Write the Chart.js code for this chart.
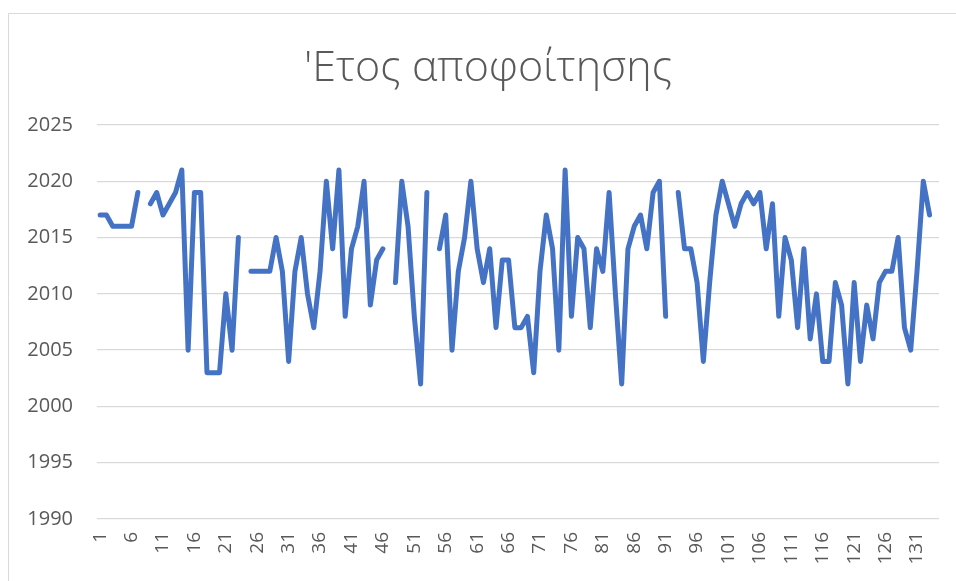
<!DOCTYPE html>
<html>
<head>
<meta charset="utf-8">
<script src="https://cdn.jsdelivr.net/npm/chart.js@4/dist/chart.umd.min.js"></script>
<style>
  html, body { margin: 0; padding: 0; background: #fff; }
  #wrap { position: relative; width: 956px; height: 581px; }
</style>
</head>
<body>
<div id="wrap"><canvas id="c" width="956" height="581"></canvas></div>
<script>
const chartTitle = "'Ετος αποφοίτησης";

const categories = [];
for (let i = 1; i <= 134; i++) categories.push(String(i));

const graduationYear = [
  2017, 2017, 2016, 2016, 2016, 2016, 2019, null, 2018, 2019,
  2017, 2018, 2019, 2021, 2005, 2019, 2019, 2003, 2003, 2003,
  2010, 2005, 2015, null, 2012, 2012, 2012, 2012, 2015, 2012,
  2004, 2012, 2015, 2010, 2007, 2012, 2020, 2014, 2021, 2008,
  2014, 2016, 2020, 2009, 2013, 2014, null, 2011, 2020, 2016,
  2008, 2002, 2019, null, 2014, 2017, 2005, 2012, 2015, 2020,
  2014, 2011, 2014, 2007, 2013, 2013, 2007, 2007, 2008, 2003,
  2012, 2017, 2014, 2005, 2021, 2008, 2015, 2014, 2007, 2014,
  2012, 2019, 2010, 2002, 2014, 2016, 2017, 2014, 2019, 2020,
  2008, null, 2019, 2014, 2014, 2011, 2004, 2011, 2017, 2020,
  2018, 2016, 2018, 2019, 2018, 2019, 2014, 2018, 2008, 2015,
  2013, 2007, 2014, 2006, 2010, 2004, 2004, 2011, 2009, 2002,
  2011, 2004, 2009, 2006, 2011, 2012, 2012, 2015, 2007, 2005,
  2012, 2020, 2017, null
];

const yMin = 1990, yMax = 2025, yStep = 5;

const frameAndTitle = {
  id: 'frameAndTitle',
  beforeDraw(chart) {
    const ctx = chart.ctx;
    ctx.save();
    ctx.strokeStyle = '#d9d9d9';
    ctx.lineWidth = 1;
    ctx.beginPath();
    ctx.moveTo(8.5, 581);
    ctx.lineTo(8.5, 13.5);
    ctx.lineTo(956, 13.5);
    ctx.stroke();
    ctx.fillStyle = '#595959';
    ctx.font = '300 43px "Open Sans", "Liberation Sans", sans-serif';
    ctx.textAlign = 'center';
    ctx.textBaseline = 'alphabetic';
    ctx.fillText(chartTitle, 488, 81);
    ctx.restore();
  }
};

new Chart(document.getElementById('c'), {
  type: 'line',
  data: {
    labels: categories,
    datasets: [{
      data: graduationYear,
      borderColor: '#4472C4',
      borderWidth: 5,
      borderCapStyle: 'round',
      borderJoinStyle: 'round',
      pointRadius: 0,
      pointHoverRadius: 0,
      spanGaps: false,
      tension: 0,
      fill: false
    }]
  },
  options: {
    responsive: false,
    animation: false,
    devicePixelRatio: 1,
    layout: { padding: { left: 0, right: 17, top: 125, bottom: 0 } },
    plugins: {
      legend: { display: false },
      title: { display: false },
      tooltip: { enabled: false }
    },
    scales: {
      x: {
        type: 'category',
        offset: true,
        grid: { display: false, drawTicks: false },
        border: { display: false },
        ticks: {
          autoSkip: false,
          minRotation: 90,
          maxRotation: 90,
          padding: 13,
          color: '#595959',
          font: { family: '"Open Sans", "Liberation Sans", sans-serif', size: 19 },
          callback: function(value, index) {
            return (index % 5 === 0) ? categories[index] : '';
          }
        },
        afterFit(scale) {
          scale.height = 62;
          scale.paddingLeft = 0;
          scale.paddingRight = 0;
        }
      },
      y: {
        min: yMin,
        max: yMax,
        grid: { color: '#d9d9d9', lineWidth: 1.3, drawTicks: false },
        border: { display: false },
        ticks: {
          stepSize: yStep,
          padding: 24,
          color: '#595959',
          font: { family: '"Open Sans", "Liberation Sans", sans-serif', size: 20 },
          callback: function(value) { return String(value); }
        },
        afterFit(scale) {
          scale.width = 97;
          scale.paddingTop = 0;
          scale.paddingBottom = 0;
        }
      }
    }
  },
  plugins: [frameAndTitle]
});
</script>
</body>
</html>
